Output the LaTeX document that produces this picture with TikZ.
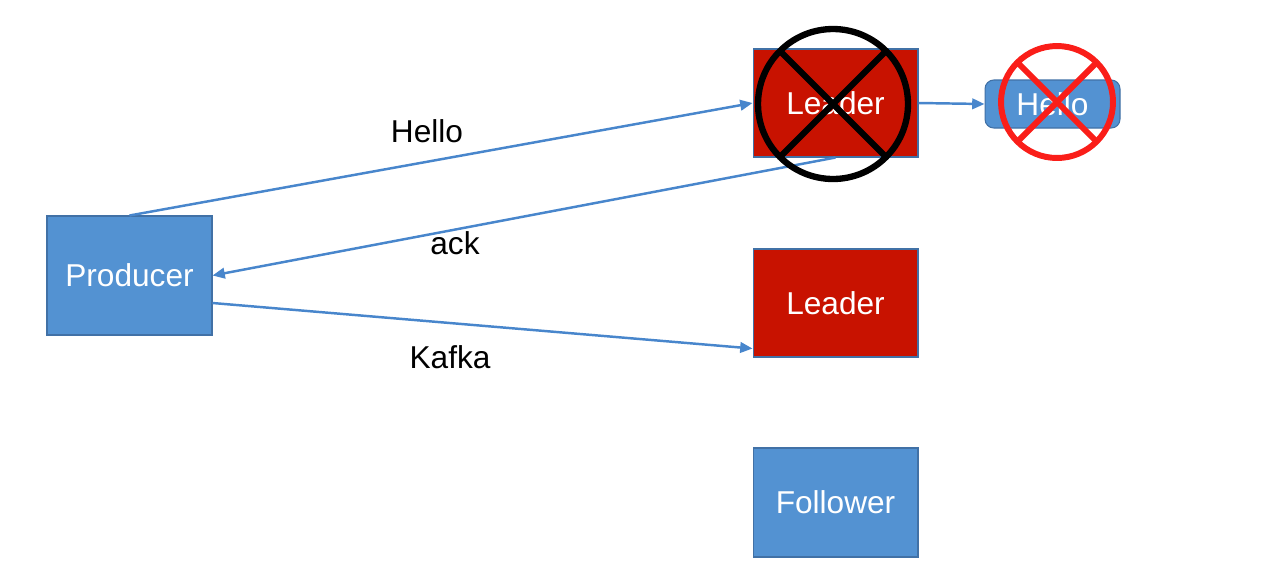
\documentclass[tikz,border=0pt]{standalone}
\usepackage{fontspec}
\setmainfont{Liberation Sans}
\usetikzlibrary{arrows.meta}
\definecolor{boxblue}{RGB}{83,146,210}
\definecolor{edgeblue}{RGB}{65,113,166}
\definecolor{arrowblue}{RGB}{72,134,204}
\definecolor{leadred}{RGB}{200,18,0}
\definecolor{crossred}{RGB}{250,30,25}
\begin{document}
\begin{tikzpicture}[x=0.02cm, y=-0.02cm,
		box/.style={draw=edgeblue, line width=0.6pt, fill=boxblue, text=white, minimum width=3.3cm, font=\fontsize{18}{22}\selectfont},
		leadbox/.style={box, fill=leadred, draw=edgeblue},
		msg/.style={font=\fontsize{18}{22}\selectfont},
		link/.style={arrowblue, line width=1.4pt, -{Triangle[length=7pt, width=6pt]}}]
		\useasboundingbox[fill=white] (0, 0) rectangle (1270, 586);
		\node[box, minimum height=2.38cm] (prod) at (129.5, 275.5) {Producer};
		\node[leadbox, minimum height=2.16cm] (lead1) at (835.5, 103) {Leader};
		\node[leadbox, minimum height=2.16cm] (lead2) at (835.5, 303) {Leader};
		\node[box, minimum height=2.18cm] (follow) at (835.5, 502.5) {Follower};
		\node[box, rounded corners=5pt, minimum width=2.7cm, minimum height=0.96cm] (copy) at (1052.5, 104) {Hello};
		\draw[link] (prod.north) -- (lead1.west);
		\draw[link] (lead1.south) -- (prod.east);
		\draw[link] ([yshift=-0.55cm]prod.east) -- ([yshift=0.18cm]lead2.south west);
		\draw[link] (lead1.east) -- (copy.west);
		\node[msg] (hello) at (427, 131) {Hello};
		\node[msg] (ack) at (455, 243) {ack};
		\node[msg] (kafka) at (450, 357) {Kafka};
		\draw[black, line width=3.6pt] (833, 104) circle (1.5cm);
		\foreach \a in {45, 135}
			\draw[black, line width=3.6pt] (833, 104) ++(\a:1.5cm) -- ++(\a:-3cm);
		\draw[crossred, line width=3.4pt] (1057, 102) circle (1.12cm);
		\foreach \a in {45, 135}
			\draw[crossred, line width=3.4pt] (1057, 102) ++(\a:1.12cm) -- ++(\a:-2.24cm);
	\end{tikzpicture}
\end{document}
